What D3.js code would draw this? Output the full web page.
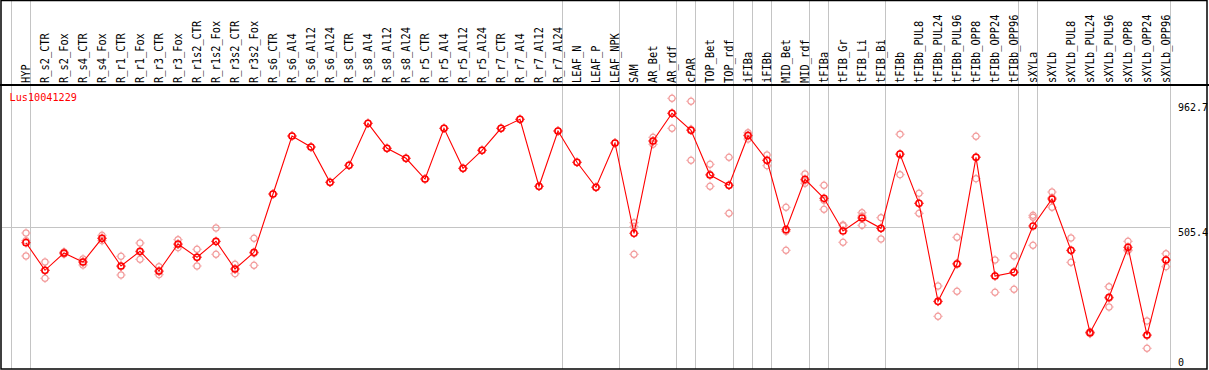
<!DOCTYPE html>
<html>
<head>
<meta charset="utf-8">
<script src="https://cdn.jsdelivr.net/npm/d3@7"></script>
<style>
  body { margin: 0; background: #fff; }
  svg text { font-family: "DejaVu Sans Mono", monospace; }
</style>
</head>
<body>
<svg id="chart" width="1209" height="370"></svg>
<script>
// Sample names (columns)
const categories = [
  "HYP", "R_s2_CTR", "R_s2_Fox", "R_s4_CTR", "R_s4_Fox", "R_r1_CTR", "R_r1_Fox",
  "R_r3_CTR", "R_r3_Fox", "R_r1s2_CTR", "R_r1s2_Fox", "R_r3s2_CTR", "R_r3s2_Fox",
  "R_s6_CTR", "R_s6_Al4", "R_s6_Al12", "R_s6_Al24", "R_s8_CTR", "R_s8_Al4", "R_s8_Al12",
  "R_s8_Al24", "R_r5_CTR", "R_r5_Al4", "R_r5_Al12", "R_r5_Al24", "R_r7_CTR", "R_r7_Al4",
  "R_r7_Al12", "R_r7_Al24", "LEAF_N", "LEAF_P", "LEAF_NPK", "SAM", "AR_Bet", "AR_rdf",
  "cPAR", "TOP_Bet", "TOP_rdf", "iFIBa", "iFIBb", "MID_Bet", "MID_rdf", "tFIBa",
  "tFIB_Gr", "tFIB_Li", "tFIB_Bi", "tFIBb", "tFIBb_PUL8", "tFIBb_PUL24", "tFIBb_PUL96",
  "tFIBb_OPP8", "tFIBb_OPP24", "tFIBb_OPP96", "sXYLa", "sXYLb", "sXYLb_PUL8",
  "sXYLb_PUL24", "sXYLb_PUL96", "sXYLb_OPP8", "sXYLb_OPP24", "sXYLb_OPP96"
];

// First sample of each tissue group (a grey line is drawn before it)
const groupStarts = ["HYP", "R_s2_CTR", "LEAF_N", "SAM", "cPAR", "TOP_Bet", "iFIBa",
  "iFIBb", "MID_Bet", "tFIBa", "tFIB_Gr", "tFIBb", "sXYLa", "sXYLb"];

// Mean expression per sample
const meanValues = [
  449.6, 349.0, 412.1, 379.2, 465.7, 364.7, 418.3, 346.4, 444.9, 396.4, 454.7, 353.7, 414.6,
  627.2, 838.7, 798.6, 669.9, 731.9, 885.0, 793.9, 757.4, 681.9, 866.8, 720.9, 786.6,
  866.8, 899.6, 655.3, 856.9, 742.8, 651.7, 813.2,
  483.9, 820.5, 921.5, 859.5, 696.5, 659.0, 839.8, 750.1, 497.0, 680.8, 611.5,
  492.3, 539.7, 502.1, 772.3, 593.3, 235.9, 372.0, 761.0, 328.2, 341.7,
  510.5, 609.0, 421.9, 121.4, 250.5, 432.9, 113.0, 386.5
];

// Individual replicates per sample
const replicateValues = [
  [485.0, 456.9, 401.1], [379.2, 348.3, 319.8], [415.7, 412.1, 408.4], [390.2, 379.2, 368.3],
  [476.6, 465.7, 456.9], [400.0, 362.1, 331.8], [448.5, 415.7, 389.1], [362.1, 343.9, 332.9],
  [460.6, 442.3, 431.4], [425.6, 397.5, 364.7], [503.2, 453.3, 407.3], [370.9, 353.7, 336.6],
  [465.7, 411.0, 367.2],
  [627.2], [838.7], [798.6], [669.9], [731.9], [885.0], [793.9], [757.4], [681.9], [866.8],
  [720.9], [786.6], [866.8], [899.6], [655.3], [856.9], [742.8], [651.7], [813.2],
  [522.6, 508.0, 407.3], [834.0, 820.5, 808.5], [976.2, 921.5, 866.8], [965.3, 863.2, 750.1],
  [735.5, 699.1, 655.3], [761.0, 659.0, 556.8], [850.7, 842.4, 827.8], [769.4, 750.1, 730.4],
  [578.7, 491.2, 421.9], [700.1, 675.7, 666.2], [659.0, 604.2, 571.4], [514.2, 511.6, 451.1],
  [559.0, 547.0, 513.1], [540.8, 502.1, 463.1], [845.3, 773.1, 697.6], [629.8, 593.3, 556.8],
  [291.7, 234.5, 181.2], [469.3, 374.5, 272.4], [837.6, 762.1, 683.0], [386.5, 329.3, 268.8],
  [401.1, 343.9, 279.7], [549.5, 542.2, 440.1], [634.5, 613.7, 578.7], [466.8, 420.4, 378.1],
  [125.1, 121.4, 117.8], [289.2, 246.9, 215.2], [454.7, 423.0, 420.4], [164.1, 110.5, 64.5],
  [409.5, 387.6, 362.1]
];

const yTickValues = [0, 505.4, 962.7];
const geneName = "Lus10041229";

const width = 1209, height = 370;
const headerBottom = 85, plotBottom = 369;

const svg = d3.select("#chart");

const x = d3.scalePoint().domain(categories).range([26, 1166]);
const y = d3.scaleLinear().domain([0, 962.7]).range([366, 102]);

// vertical group separators (run through header too)
const sepX = groupStarts.map(c => x(c) - 14.6);
sepX.push(x(categories[categories.length - 1]) + 4.3);
svg.append("g")
  .selectAll("line")
  .data(sepX)
  .join("line")
  .attr("x1", d => Math.round(d) + 0.5)
  .attr("x2", d => Math.round(d) + 0.5)
  .attr("y1", 0)
  .attr("y2", plotBottom)
  .attr("stroke", "#c4c4c4")
  .attr("stroke-width", 1);

// horizontal grid at middle tick
svg.append("line")
  .attr("x1", 2)
  .attr("x2", Math.round(sepX[sepX.length - 1]) + 0.5)
  .attr("y1", Math.round(y(505.4)) + 0.5)
  .attr("y2", Math.round(y(505.4)) + 0.5)
  .attr("stroke", "#c4c4c4");

// frame
svg.append("rect")
  .attr("x", 1).attr("y", 0.5)
  .attr("width", 1206).attr("height", plotBottom - 0.5)
  .attr("fill", "none").attr("stroke", "#000").attr("stroke-width", 1.5);
svg.append("line")
  .attr("x1", 0).attr("x2", width)
  .attr("y1", headerBottom).attr("y2", headerBottom)
  .attr("stroke", "#000").attr("stroke-width", 2);

// rotated sample labels (slightly condensed, tall glyphs like the original)
svg.append("g")
  .selectAll("text")
  .data(categories)
  .join("text")
  .attr("transform", d => `translate(${x(d) + 4.3},83) rotate(-90) scale(0.9,1)`)
  .attr("text-anchor", "start")
  .attr("font-size", "11.5px")
  .attr("fill", "#000")
  .text(d => d);

// y tick labels on the right
svg.append("g")
  .selectAll("text")
  .data(yTickValues)
  .join("text")
  .attr("x", 1178)
  .attr("y", d => Math.min(y(d) + 8.6, 365.5))
  .attr("font-size", "10px")
  .attr("fill", "#000")
  .text(d => d);

// gene id
svg.append("text")
  .attr("x", 9.5)
  .attr("y", 100.5)
  .attr("font-size", "10.2px")
  .attr("fill", "#ff0000")
  .text(geneName);

// marker helper: circle with little ticks
function marker(g, color, width) {
  g.append("circle").attr("r", 3.1).attr("fill", "none")
    .attr("stroke", color).attr("stroke-width", width);
  g.selectAll("line.tk")
    .data([[0, -1], [0, 1], [-1, 0], [1, 0]])
    .join("line")
    .attr("x1", d => d[0] * 3.5).attr("y1", d => d[1] * 3.5)
    .attr("x2", d => d[0] * 4.6).attr("y2", d => d[1] * 4.6)
    .attr("stroke", color).attr("stroke-width", 1);
}

// replicates
const reps = [];
replicateValues.forEach((vals, i) => vals.forEach(v => reps.push({ c: categories[i], v })));
svg.append("g")
  .selectAll("g")
  .data(reps)
  .join("g")
  .attr("transform", d => `translate(${x(d.c)},${y(d.v)})`)
  .each(function () { marker(d3.select(this), "#f29a9a", 1.3); });

// mean line
const meanData = categories.map((c, i) => ({ c, v: meanValues[i] }));
svg.append("path")
  .datum(meanData)
  .attr("fill", "none")
  .attr("stroke", "#ff0000")
  .attr("stroke-width", 1.1)
  .attr("d", d3.line().x(d => x(d.c)).y(d => y(d.v)));

svg.append("g")
  .selectAll("g")
  .data(meanData)
  .join("g")
  .attr("transform", d => `translate(${x(d.c)},${y(d.v)})`)
  .each(function () { marker(d3.select(this), "#ff0000", 1.5); });
</script>
</body>
</html>
